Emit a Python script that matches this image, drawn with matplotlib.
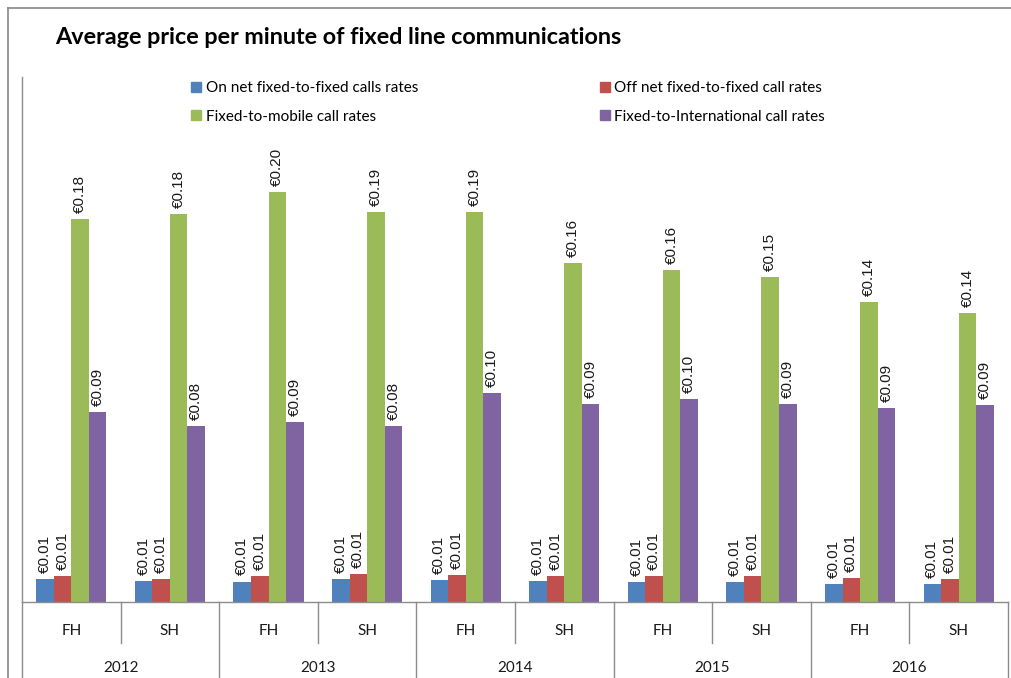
import matplotlib
matplotlib.use('Agg')
from matplotlib import pyplot as plt
from matplotlib.lines import Line2D
from matplotlib.patches import Patch
import numpy as np

years = ['2012', '2013', '2014', '2015', '2016']
halves = ['FH', 'SH'] * 5

series_names = ['On net fixed-to-fixed calls rates',
                'Off net fixed-to-fixed call rates',
                'Fixed-to-mobile call rates',
                'Fixed-to-International call rates']
colors = ['#4F81BD', '#C0504D', '#9BBB59', '#8064A2']

on_net = [0.0109, 0.0101, 0.0097, 0.0109, 0.0105, 0.0100, 0.0095, 0.0094, 0.0084, 0.0084]
off_net = [0.0124, 0.0108, 0.0122, 0.0133, 0.0128, 0.0124, 0.0124, 0.0122, 0.0113, 0.0108]
to_mobile = [0.1823, 0.1848, 0.1952, 0.1858, 0.1858, 0.1612, 0.1580, 0.1548, 0.1428, 0.1376]
to_intl = [0.0903, 0.0838, 0.0857, 0.0838, 0.0993, 0.0942, 0.0966, 0.0942, 0.0923, 0.0938]

W, H = 1012, 678
fig = plt.figure(figsize=(W / 100, H / 100), dpi=100)
ax = fig.add_axes([22 / W, (H - 602) / H, 986 / W, 525 / H])

grey = '#8c8c8c'
cal = 'Lato'

x = np.arange(len(halves))
bw = 0.178
for k, (vals, c) in enumerate(zip([on_net, off_net, to_mobile, to_intl], colors)):
    bars = ax.bar(x + (k - 1.5) * bw, vals, bw, color=c, linewidth=0)
    ax.bar_label(bars, fmt='€{:.2f}', rotation=90, padding=4.5,
                 fontsize=11, family='Liberation Sans', color='#1a1a1a')

ax.set_xlim(-0.5, 9.5)
ax.set_ylim(0, 0.25)
ax.set_xticks([])
ax.set_yticks([])
for s in ['top', 'right']:
    ax.spines[s].set_visible(False)
for s in ['left', 'bottom']:
    ax.spines[s].set_color(grey)
    ax.spines[s].set_linewidth(1)

# two-level category axis below the bars
def ay(py):
    return -(py - 602) / 525

tr = ax.get_xaxis_transform()
for i in range(11):
    bottom = ay(678) if i % 2 == 0 else ay(643)
    ax.add_line(Line2D([i - 0.5, i - 0.5], [0, bottom], transform=tr,
                       color=grey, lw=1, clip_on=False))
for i, h in enumerate(halves):
    ax.text(i, ay(631), h, transform=tr, ha='center', va='center',
            fontsize=11, family=cal, color='#1a1a1a')
for j, yr in enumerate(years):
    ax.text(2 * j + 0.5, ay(668), yr, transform=tr, ha='center', va='center',
            fontsize=11, family=cal, color='#1a1a1a')

# chart area border
fig.add_artist(Line2D([8 / W, 8 / W], [0, 1 - 8 / H], color='#888888', lw=1.2))
fig.add_artist(Line2D([8 / W, 1], [1 - 8 / H, 1 - 8 / H], color='#888888', lw=1.2))

fig.text(55 / W, 1 - 38 / H, 'Average price per minute of fixed line communications',
         fontsize=16.8, fontweight='bold', family=cal, ha='left', va='center')

handles = [Patch(color=colors[i]) for i in [0, 2, 1, 3]]
labels = [series_names[i] for i in [0, 2, 1, 3]]
fig.legend(handles, labels, ncol=2, loc='upper left',
           bbox_to_anchor=(191 / W, 1 - 81 / H), frameon=False,
           prop={'family': cal, 'size': 11}, handlelength=0.65, handleheight=0.65,
           handletextpad=0.3, columnspacing=11.9, labelspacing=0.95,
           borderpad=0, borderaxespad=0)

fig.savefig('out.png', dpi=100)
